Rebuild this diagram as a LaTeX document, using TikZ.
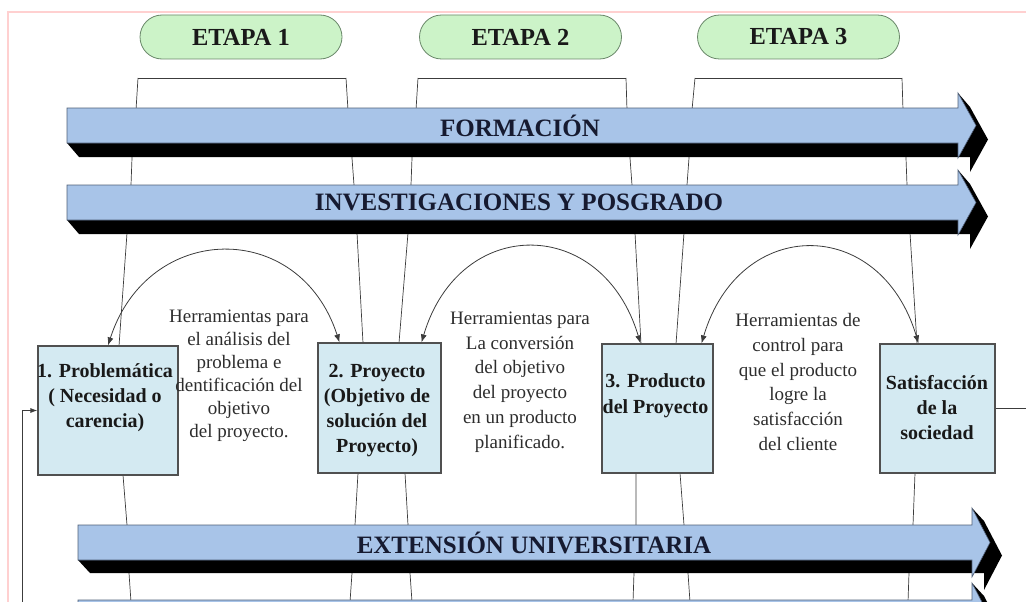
\documentclass[tikz,border=0pt]{standalone}
\usepackage{fontspec}
\setmainfont{Liberation Serif}
\usetikzlibrary{arrows.meta}
\definecolor{framepink}{RGB}{255,208,208}
\definecolor{pillfill}{RGB}{204,243,200}
\definecolor{pillborder}{RGB}{105,135,105}
\definecolor{barblue}{RGB}{168,196,232}
\definecolor{barline}{RGB}{80,95,120}
\definecolor{boxfill}{RGB}{212,234,242}
\definecolor{boxborder}{RGB}{80,80,80}
\definecolor{framegray}{RGB}{60,60,60}
\definecolor{navytext}{RGB}{22,26,48}
\definecolor{darktext}{RGB}{25,25,25}
\definecolor{tooltextcol}{RGB}{45,45,45}
\begin{document}
\begin{tikzpicture}[x=1pt,y=-1pt,
  stagepill/.style={draw=pillborder, fill=pillfill, line width=0.8pt, rounded corners=22pt,
    minimum width=202pt, minimum height=44pt, inner sep=0pt,
    font=\fontsize{24.5}{28}\selectfont\bfseries, text=darktext},
  frameline/.style={draw=framegray, line width=0.7pt},
  barface/.style={fill=barblue, draw=barline, line width=0.6pt},
  barside/.style={fill=black},
  bartext/.style={font=\fontsize{25}{30}\selectfont\bfseries, text=navytext, inner sep=0pt},
  stepbox/.style={draw=boxborder, fill=boxfill, line width=1.2pt, inner sep=0pt},
  boxtext/.style={font=\fontsize{20}{25}\selectfont\bfseries, align=center, inner sep=0pt, text=darktext},
  tooltext/.style={align=center, inner sep=0pt, text=tooltextcol},
  cycarrow/.style={draw=framegray, line width=0.8pt, {Latex[length=8pt,width=6pt]}-{Latex[length=8pt,width=6pt]}},
  feedline/.style={draw=framegray, line width=0.8pt}
]
\useasboundingbox (0,0) rectangle (1026,602);
\clip (0,0) rectangle (1026,602);

% pink frame of the screenshot
\draw[framepink, line width=1.2pt] (8,602) -- (8,12) -- (1026,12);

% stage frames (behind everything)
\draw[frameline] (138,78) -- (346,78);
\draw[frameline] (138,78)--(136,110)--(132,158)--(131,185)--(127,233)--(119,346)--(123,475)--(127,525)--(129,573)--(131,602);
\draw[frameline] (346,78)--(348,110)--(352,158)--(354,185)--(357,233)--(363,343)--(358,473)--(355,525)--(352,573)--(350,602);
\draw[frameline] (418,78) -- (626,78);
\draw[frameline] (418,78)--(416,110)--(412,158)--(411,185)--(408,233)--(399,343)--(405,473)--(408,525)--(410,573)--(412,602);
\draw[frameline] (626,78)--(627,110)--(630,158)--(632,185)--(635,233)--(641,344)--(636,473)--(636,525)--(634,573)--(633,602);
\draw[frameline] (695,78) -- (902,78);
\draw[frameline] (695,78)--(692,110)--(689,158)--(687,185)--(684,233)--(676,344)--(680,473)--(684,525)--(688,573)--(690,602);
\draw[frameline] (902,78)--(903,110)--(906,158)--(907,185)--(910,233)--(917,344)--(915,473)--(913,525)--(909,573)--(908,602);

% bar FORMACION
\fill[barside] (67,108)--(958,108)--(958,93)--(970,107)--(988,139.5)--(970,172)--(970,157)--(79,157)--(67,143)--cycle;
\path[barface] (67,108)--(958,108)--(958,93)--(976,125.5)--(958,158)--(958,143)--(67,143)--cycle;
\node[bartext] (formacion) at (520,126) {FORMACIÓN};

% bar INVESTIGACIONES
\fill[barside] (67,185)--(958,185)--(958,170)--(970,184)--(988,216.5)--(970,249)--(970,234)--(79,234)--(67,220)--cycle;
\path[barface] (67,185)--(958,185)--(958,170)--(976,202.5)--(958,235)--(958,220)--(67,220)--cycle;
\node[bartext] (investigacion) at (519,202.5) {INVESTIGACIONES Y POSGRADO};

% bar EXTENSION
\fill[barside] (78,525)--(972,525)--(972,508)--(984,521)--(1002,555.5)--(984,590)--(984,573)--(90,573)--(78,560)--cycle;
\path[barface] (78,525)--(972,525)--(972,508)--(990,542.5)--(972,577)--(972,560)--(78,560)--cycle;
\node[bartext] (extension) at (534,542.5) {EXTENSIÓN UNIVERSITARIA};

% fourth bar (cut by the picture edge)
\fill[barside] (78,600)--(972,600)--(972,583)--(984,596)--(1002,630.5)--(984,665)--(984,648)--(90,648)--(78,635)--cycle;
\path[barface] (78,600)--(972,600)--(972,583)--(990,617.5)--(972,652)--(972,635)--(78,635)--cycle;

% stage boxes
\node[stepbox, minimum width=140pt, minimum height=129pt] (b1) at (108,410.5) {};
\node[stepbox, minimum width=123pt, minimum height=130pt] (b2) at (379.5,408) {};
\node[stepbox, minimum width=111pt, minimum height=129pt] (b3) at (657.5,408.5) {};
\node[stepbox, minimum width=115pt, minimum height=129pt] (b4) at (937.5,408.5) {};

\node[boxtext] (bt1) at (105,398) {1. Problemática\\( Necesidad o\\carencia)};
\node[boxtext] (bt2) at (377,410.5) {2. Proyecto\\(Objetivo de\\solución del\\Proyecto)};
\node[boxtext, font=\fontsize{20}{26}\selectfont\bfseries] (bt3) at (655.5,396) {3. Producto\\del Proyecto};
\node[boxtext] (bt4) at (937,408) {Satisfacción\\de la\\sociedad};

% tool texts
\node[tooltext, font=\fontsize{19}{23}\selectfont] (tool1) at (239,376) {Herramientas para\\el análisis del\\problema e\\dentificación del\\objetivo\\del proyecto.};
\node[tooltext, font=\fontsize{19}{24.8}\selectfont] (tool2) at (520,382) {Herramientas para\\La conversión\\del objetivo\\del proyecto\\en un producto\\planificado.};
\node[tooltext, font=\fontsize{19}{24.8}\selectfont] (tool3) at (798,382) {Herramientas de\\control para\\que el producto\\logre la\\satisfacción\\del cliente};

% curved double arrows between boxes
\coordinate (a1s) at (b1.north);
\coordinate (a1e) at ([xshift=-40pt]b2.north);
\coordinate (a2s) at ([xshift=42pt]b2.north);
\coordinate (a2e) at ([xshift=-17pt]b3.north);
\coordinate (a3s) at ([xshift=44pt]b3.north);
\coordinate (a3e) at ([xshift=-19pt]b4.north);
\draw[cycarrow] (a1s) .. controls ([shift={(40,-124)}]a1s) and ([shift={(-40,-124)}]a1e) .. (a1e);
\draw[cycarrow] (a2s) .. controls ([shift={(38,-128)}]a2s) and ([shift={(-38,-128)}]a2e) .. (a2e);
\draw[cycarrow] (a3s) .. controls ([shift={(38,-128)}]a3s) and ([shift={(-38,-128)}]a3e) .. (a3e);

% feedback lines
\coordinate (fbR) at (1026,408.5);
\coordinate (fbL) at (22,602);
\draw[feedline] (b4.east) -- (fbR);
\draw[feedline, -{Latex[length=7pt,width=5pt]}] (fbL) |- (b1.west);

% stage pills
\node[stagepill] (etapa1) at (241,37) {ETAPA 1};
\node[stagepill] (etapa2) at (520.5,37) {ETAPA 2};
\node[stagepill] (etapa3) at (798.5,37) {ETAPA 3};
\end{tikzpicture}
\end{document}
